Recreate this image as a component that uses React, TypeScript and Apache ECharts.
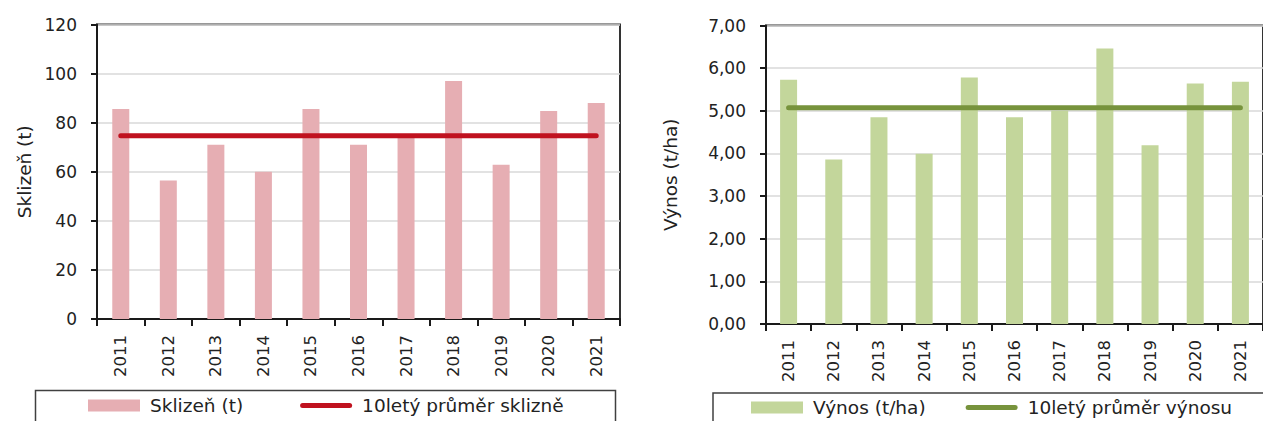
import React, { useEffect, useRef } from "react";
import * as echarts from "echarts";

const years = ["2011", "2012", "2013", "2014", "2015", "2016", "2017", "2018", "2019", "2020", "2021"];
const harvest = [85.6, 56.4, 71.0, 60.0, 85.6, 71.0, 74.0, 97.0, 62.9, 84.8, 88.0];
const harvestAvg = [74.7, 74.7, 74.7, 74.7, 74.7, 74.7, 74.7, 74.7, 74.7, 74.7, 74.7];
const yieldVals = [5.73, 3.86, 4.85, 3.99, 5.78, 4.85, 5.0, 6.46, 4.19, 5.64, 5.68];
const yieldAvg = [5.07, 5.07, 5.07, 5.07, 5.07, 5.07, 5.07, 5.07, 5.07, 5.07, 5.07];

const harvestName = "Sklizeň (t)";
const harvestAvgName = "10letý průměr sklizně";
const yieldName = "Výnos (t/ha)";
const yieldAvgName = "10letý průměr výnosu";

const FONT = "DejaVu Sans";
const TXT = "#222222";
const LINE_ICON = "path://M2.5,0 L49.5,0 A2.5,2.5 0 0 1 49.5,5 L2.5,5 A2.5,2.5 0 0 1 2.5,0 Z";

function xAxisDef(gridIndex: number) {
  return {
    type: "category",
    gridIndex,
    data: years,
    boundaryGap: true,
    axisLine: { show: true, lineStyle: { color: "#1a1a1a", width: 2 } },
    axisTick: { show: true, length: 7, inside: false, lineStyle: { color: "#1a1a1a", width: 2 } },
    axisLabel: { rotate: 90, margin: 16, fontFamily: FONT, fontSize: 16.5, color: TXT },
    splitLine: { show: false },
  };
}

function yAxisDef(gridIndex: number, max: number, interval: number, name: string, nameGap: number, fmt: (v: number) => string) {
  return {
    type: "value",
    gridIndex,
    min: 0,
    max,
    interval,
    name,
    nameLocation: "middle",
    nameGap,
    nameTextStyle: { fontFamily: FONT, fontSize: 18.5, color: TXT },
    axisLine: { show: true, lineStyle: { color: "#1a1a1a", width: 2 } },
    axisTick: { show: true, length: 6, inside: false, lineStyle: { color: "#1a1a1a", width: 2 } },
    axisLabel: { margin: 20, fontFamily: FONT, fontSize: 17, color: TXT, formatter: fmt },
    splitLine: { show: true, lineStyle: { color: "#D9D9D9", width: 1.5 } },
  };
}

export default function App() {
  const ref = useRef<HTMLDivElement>(null);
  useEffect(() => {
    if (!ref.current) return;
    const chart = echarts.init(ref.current, undefined, { renderer: "svg" });
    chart.setOption({
      animation: false,
      backgroundColor: "#ffffff",
      grid: [
        { left: 97, top: 24.5, width: 523, height: 294.5, show: true, borderColor: "#333333", borderWidth: 2, containLabel: false },
        { left: 766, top: 25.5, width: 510, height: 298.5, show: true, borderColor: "#333333", borderWidth: 2, containLabel: false },
      ],
      xAxis: [xAxisDef(0), xAxisDef(1)],
      yAxis: [
        yAxisDef(0, 120, 20, harvestName, 63, (v: number) => String(v)),
        yAxisDef(1, 7, 1, yieldName, 86, (v: number) => v.toFixed(2).replace(".", ",")),
      ],
      legend: [
        {
          left: 88,
          top: 394,
          padding: 0,
          itemWidth: 52,
          itemHeight: 12,
          itemGap: 57,
          textStyle: { fontFamily: FONT, fontSize: 18.5, color: TXT, lineHeight: 23, padding: [0, 0, 0, 5] },
          data: [{ name: harvestName, icon: "rect" }, { name: harvestAvgName, icon: LINE_ICON }],
        },
        {
          left: 751,
          top: 396,
          padding: 0,
          itemWidth: 52,
          itemHeight: 12,
          itemGap: 40,
          textStyle: { fontFamily: FONT, fontSize: 18.5, color: TXT, lineHeight: 23, padding: [0, 0, 0, 5] },
          data: [{ name: yieldName, icon: "rect" }, { name: yieldAvgName, icon: LINE_ICON }],
        },
      ],
      graphic: [
        { type: "rect", left: 33, top: 388, shape: { x: 0, y: 0, width: 580, height: 45 }, style: { fill: "none", stroke: "#404040", lineWidth: 1.5 }, silent: true },
        { type: "rect", left: 710.5, top: 390.5, shape: { x: 0, y: 0, width: 600, height: 45 }, style: { fill: "none", stroke: "#404040", lineWidth: 1.5 }, silent: true },
      ],
      series: [
        {
          name: harvestName,
          type: "bar",
          xAxisIndex: 0,
          yAxisIndex: 0,
          data: harvest,
          barWidth: 17,
          itemStyle: { color: "#E6AEB3" },
          z: 2,
        },
        {
          name: harvestAvgName,
          type: "line",
          xAxisIndex: 0,
          yAxisIndex: 0,
          data: harvestAvg,
          symbol: "none",
          lineStyle: { color: "#C0121F", width: 5, cap: "round" },
          itemStyle: { color: "#C0121F" },
          z: 3,
        },
        {
          name: yieldName,
          type: "bar",
          xAxisIndex: 1,
          yAxisIndex: 1,
          data: yieldVals,
          barWidth: 17,
          itemStyle: { color: "#C3D69B" },
          z: 2,
        },
        {
          name: yieldAvgName,
          type: "line",
          xAxisIndex: 1,
          yAxisIndex: 1,
          data: yieldAvg,
          symbol: "none",
          lineStyle: { color: "#77933C", width: 5, cap: "round" },
          itemStyle: { color: "#77933C" },
          z: 3,
        },
      ],
    });
    return () => chart.dispose();
  }, []);
  return (
    <div
      ref={ref}
      style={{ position: "absolute", left: 0, top: 0, width: 1263, height: 421, overflow: "hidden" }}
    />
  );
}
